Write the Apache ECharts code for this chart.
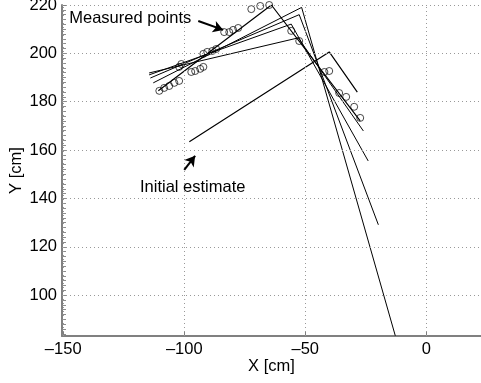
<!DOCTYPE html>
<html>
<head>
<meta charset="utf-8">
<script src="https://cdn.jsdelivr.net/npm/echarts@6/dist/echarts.min.js"></script>
<style>
  html, body { margin: 0; padding: 0; background: #fff; }
  #chart { width: 481px; height: 383px; }
</style>
</head>
<body>
<div id="chart"></div>
<script>
// estimates: left end, corner, right end  [X cm, Y cm]
const estInitial = [[-97.9, 163.4], [-40.1, 200.6], [-28.5, 184.0]];
const est1 = [[-114.5, 191.9], [-52.9, 206.4], [-26.0, 167.9]];
const est2 = [[-114.5, 191.1], [-55.8, 212.1], [-24.0, 155.5]];
const est3 = [[-114.0, 189.8], [-52.5, 216.0], [-19.8, 129.1]];
const est4 = [[-112.8, 187.8], [-51.5, 219.0], [-12.8, 83.2]];
const estFinal = [[-110.7, 184.5], [-64.0, 220.0], [-27.3, 172.1]];

const measuredPoints = [
  [-110.3, 184.5], [-108.3, 185.7], [-106.2, 186.5], [-104.1, 187.8], [-102.1, 188.6],
  [-102.1, 194.4], [-101.2, 195.6], [-97.1, 192.3], [-95.5, 192.7], [-93.4, 193.6],
  [-92.1, 194.4], [-92.1, 199.8], [-90.5, 200.6], [-88.4, 201.0], [-86.8, 201.8],
  [-83.5, 208.8], [-81.4, 208.8], [-79.8, 209.7], [-77.7, 210.5],
  [-72.3, 218.3], [-68.6, 219.6], [-64.9, 220.0],
  [-55.8, 209.3], [-52.5, 205.1],
  [-42.1, 192.3], [-40.1, 192.7], [-36.0, 183.6], [-33.1, 182.0], [-29.8, 177.9], [-27.3, 173.3]
];

const xTicks = [-150, -100, -50, 0];
const yTicks = [100, 120, 140, 160, 180, 200, 220];
const yMinorTicks = Array.from({ length: 68 }, (_, i) => 84 + 2 * i);

const measuredArrow = [[-94.2, 213.4], [-83.9, 209.7]];
const initialArrow = [[-100.0, 151.8], [-95.5, 157.6]];
const measuredLabelAt = [-147.5, 214.4];
const initialLabelAt = [-96.5, 144.6];

const FONT = '"Liberation Sans", Arial, Helvetica, sans-serif';
const FS = 16.5;
const axisGray = '#808080';
const Y_MIN = 83.1, Y_MAX = 220;

const chart = echarts.init(document.getElementById('chart'));

function estSeries(data, width) {
  return {
    type: 'line',
    data: data,
    showSymbol: false,
    silent: true,
    lineStyle: { color: '#000', width: width },
    z: 3
  };
}

chart.setOption({
  animation: false,
  grid: { left: 62, right: 0, top: 5, bottom: 47, containLabel: false, outerBoundsMode: 'none' },
  xAxis: {
    type: 'value',
    min: -150.5,
    max: 22.6,
    name: 'X [cm]',
    nameLocation: 'middle',
    nameGap: 22,
    nameMoveOverlap: false,
    nameTextStyle: { color: '#000', fontSize: FS, fontFamily: FONT },
    axisLine: { show: true, onZero: false, lineStyle: { color: axisGray, width: 2 } },
    axisTick: { show: true, inside: true, length: 4, customValues: xTicks, lineStyle: { color: axisGray } },
    axisLabel: {
      customValues: xTicks, margin: 5, color: '#000', fontSize: FS, fontFamily: FONT,
      formatter: v => String(v).replace('-', '\u2013')
    },
    splitLine: { show: false }
  },
  yAxis: [
    {
      type: 'value',
      min: Y_MIN,
      max: Y_MAX,
      splitNumber: 7,
      name: 'Y [cm]',
      nameLocation: 'middle',
      nameGap: 37,
      nameMoveOverlap: false,
      nameTextStyle: { color: '#000', fontSize: FS, fontFamily: FONT },
      axisLine: { show: true, onZero: false, lineStyle: { color: axisGray, width: 2 } },
      axisTick: { show: true, inside: true, length: 4, customValues: yTicks, lineStyle: { color: axisGray } },
      axisLabel: { customValues: yTicks, margin: 5, color: '#000', fontSize: FS, fontFamily: FONT },
      splitLine: { show: false }
    },
    {
      // minor ticks every 2 cm
      type: 'value',
      min: Y_MIN,
      max: Y_MAX,
      position: 'left',
      offset: 0,
      axisLine: { show: false, onZero: false },
      axisTick: { show: true, inside: true, length: 4, customValues: yMinorTicks, lineStyle: { color: '#8c8c8c', width: 1 } },
      axisLabel: { show: false },
      splitLine: { show: false }
    }
  ],
  series: [
    {
      // dotted grid
      type: 'line',
      data: [],
      silent: true,
      z: 1,
      markLine: {
        silent: true,
        symbol: ['none', 'none'],
        label: { show: false },
        lineStyle: { color: '#999', width: 1, type: [1, 3] },
        data: xTicks.map(v => ({ xAxis: v })).concat(yTicks.map(v => ({ yAxis: v })))
      }
    },
    estSeries(estInitial, 1.2),
    estSeries(est1, 1),
    estSeries(est2, 1),
    estSeries(est3, 1),
    estSeries(est4, 1),
    estSeries(estFinal, 1.2),
    {
      type: 'scatter',
      data: measuredPoints,
      symbol: 'circle',
      symbolSize: 7,
      silent: true,
      itemStyle: { color: 'rgba(0,0,0,0)', borderColor: '#000', borderWidth: 0.9 },
      z: 4
    },
    {
      type: 'line',
      data: [],
      silent: true,
      markLine: {
        silent: true,
        symbol: ['none', 'arrow'],
        symbolSize: [9, 10],
        label: { show: false },
        lineStyle: { color: '#000', width: 2, type: 'solid' },
        data: [
          [{ coord: measuredArrow[0] }, { coord: measuredArrow[1] }],
          [{ coord: initialArrow[0] }, { coord: initialArrow[1] }]
        ]
      }
    }
  ]
});

const p1 = chart.convertToPixel({ gridIndex: 0 }, measuredLabelAt);
const p2 = chart.convertToPixel({ gridIndex: 0 }, initialLabelAt);
chart.setOption({
  graphic: [
    { type: 'text', x: p1[0], y: p1[1], style: { text: 'Measured points', fill: '#000', font: FS + 'px ' + FONT, textAlign: 'left', textVerticalAlign: 'middle' }, z: 10 },
    { type: 'text', x: p2[0], y: p2[1], style: { text: 'Initial estimate', fill: '#000', font: FS + 'px ' + FONT, textAlign: 'center', textVerticalAlign: 'middle' }, z: 10 }
  ]
});
</script>
</body>
</html>
